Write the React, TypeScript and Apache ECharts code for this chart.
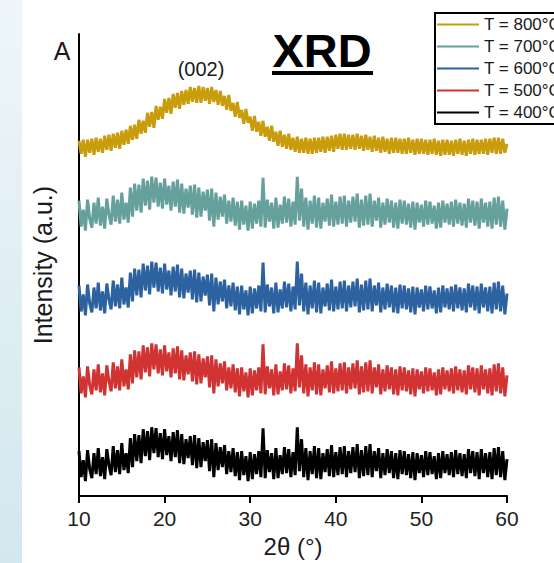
import React, { useEffect, useRef } from "react";
import * as echarts from "echarts";

// 2θ grid: 10° → 60° sampled every 0.25°
const ANGLE_START = 10;
const ANGLE_STEP = 0.25;

const seriesNames = ["T = 800°C", "T = 700°C", "T = 600°C", "T = 500°C", "T = 400°C"];
const seriesColors = ["#c99c0c", "#65a09c", "#2d62a0", "#d13232", "#000000"];
// vertical stacking offsets (a.u.)
const seriesOffsets = [349, 282, 197, 115, 31];

// T = 800°C pattern (graphitic (002) hump at ~24°)
const intensity800 = [
  7, -6, 8, -9, 8, -5, 9, -7, 10, -4, 9, -5, 12, -2, 13, -3,
  14, 0, 15, -1, 17, 3, 18, 4, 22, 8, 23, 9, 28, 14, 27, 15,
  35, 21, 36, 20, 42, 28, 41, 29, 49, 35, 50, 34, 54, 40, 55, 39,
  57, 43, 58, 44, 61, 46, 60, 45, 62, 45, 61, 47, 60, 44, 61, 46,
  58, 43, 57, 42, 52, 38, 53, 37, 45, 31, 46, 30, 38, 24, 39, 25,
  31, 17, 32, 16, 26, 12, 27, 11, 21, 7, 22, 6, 16, 2, 17, 1,
  13, -1, 14, -2, 10, -4, 11, -5, 9, -5, 10, -6, 9, -6, 10, -5,
  10, -4, 11, -5, 11, -3, 12, -4, 13, -1, 14, -2, 14, -2, 13, -1,
  13, -2, 14, -1, 12, -3, 13, -2, 11, -4, 12, -3, 10, -5, 11, -4,
  9, -6, 10, -5, 10, -5, 9, -6, 9, -6, 10, -5, 8, -7, 9, -6,
  9, -6, 8, -7, 8, -6, 9, -7, 7, -8, 8, -7, 8, -7, 7, -8,
  8, -6, 9, -7, 7, -8, 8, -6, 9, -7, 8, -6, 8, -6, 9, -7,
  9, -5, 10, -6, 10, -6, 9, -5, 4,
];

// T = 400–700°C patterns (amorphous, identical profile)
const intensityAmorphous = [
  14, -12, 5, -16, 15, -4, -13, 12, -9, 17, -11, 8, -14, 16, 0, -10,
  19, -7, 15, -9, 22, -5, 12, -8, 27, -2, 31, 4, 30, 2, 36, 9,
  34, 5, 38, 12, 37, 8, 32, 6, 36, 10, 29, 4, 33, 8, 35, 2,
  31, 1, 26, 7, 29, 0, 30, -3, 27, -2, 23, 4, 25, -6, 26, -12,
  22, -5, 18, -2, 20, -9, 14, -7, 17, -11, 13, -15, 14, -10, 9, -16,
  13, -14, 11, -9, 14, -12, 37, -13, 15, -7, 12, -14, 17, -13, 10, -9,
  18, -8, 16, -12, 13, -10, 38, -6, 26, -12, 17, -15, 14, -9, 19, -13,
  17, -14, 12, -7, 16, -11, 20, -12, 13, -10, 18, -9, 19, -12, 14, -8,
  18, -7, 21, -13, 15, -11, 19, -10, 21, -12, 14, -6, 17, -13, 12, -10,
  16, -8, 14, -13, 12, -14, 15, -9, 14, -10, 11, -13, 13, -15, 12, -8,
  10, -12, 14, -10, 13, -9, 9, -14, 12, -13, 14, -8, 11, -10, 13, -12,
  15, -9, 12, -11, 11, -13, 16, -8, 14, -11, 13, -14, 16, -8, 12, -12,
  13, -14, 17, -10, 18, -12, 14, -15, 6,
];

const seriesValues = [
  intensity800,
  intensityAmorphous,
  intensityAmorphous,
  intensityAmorphous,
  intensityAmorphous,
];

const xTicks = [10, 20, 30, 40, 50, 60];

const FONT = "'Liberation Sans', Arial, sans-serif";

export default function App() {
  const ref = useRef<HTMLDivElement>(null);

  useEffect(() => {
    if (!ref.current) return;
    const chart = echarts.init(ref.current, null, { renderer: "svg" });

    const series = seriesNames.map((name, s) => ({
      name,
      type: "line",
      showSymbol: false,
      symbol: "none",
      color: seriesColors[s],
      lineStyle: { width: 3, color: seriesColors[s], join: "miter" },
      data: seriesValues[s].map((v, i) => [ANGLE_START + i * ANGLE_STEP, v + seriesOffsets[s]]),
      z: 5 - s,
    }));

    chart.setOption({
      animation: false,
      backgroundColor: "#ffffff",
      textStyle: { fontFamily: FONT },
      grid: { left: 79, right: 47, top: 34, bottom: 66 },
      legend: {
        orient: "vertical",
        left: 435,
        top: 13,
        data: seriesNames,
        icon: "rect",
        itemWidth: 42,
        itemHeight: 2,
        itemGap: 5,
        borderColor: "#000",
        borderWidth: 2,
        borderRadius: 0,
        padding: [3, 6, 3, 2],
        textStyle: { fontSize: 17, color: "#1a1a1a", fontFamily: FONT },
      },
      xAxis: {
        type: "value",
        min: xTicks[0],
        max: xTicks[xTicks.length - 1],
        interval: 10,
        name: "2θ (°)",
        nameLocation: "middle",
        nameGap: 36,
        nameTextStyle: { fontSize: 24, color: "#1a1a1a", fontFamily: FONT },
        axisLine: { show: true, onZero: false, lineStyle: { color: "#000", width: 2 } },
        axisTick: { show: true, length: 7, lineStyle: { color: "#000", width: 2 } },
        axisLabel: { fontSize: 21, color: "#222", margin: 12, fontFamily: FONT },
        splitLine: { show: false },
      },
      yAxis: {
        type: "value",
        min: 0,
        max: 463,
        name: "Intensity (a.u.)",
        nameLocation: "middle",
        nameGap: 24,
        nameTextStyle: { fontSize: 25, color: "#1a1a1a", fontFamily: FONT },
        axisLine: { show: true, lineStyle: { color: "#000", width: 2 } },
        axisTick: { show: false },
        axisLabel: { show: false },
        splitLine: { show: false },
      },
      graphic: [
        {
          type: "rect",
          left: 0,
          top: 0,
          z: -10,
          shape: { width: 22, height: 563 },
          style: {
            fill: new echarts.graphic.LinearGradient(0, 0, 0, 1, [
              { offset: 0, color: "#eef6fa" },
              { offset: 1, color: "#d3e7ef" },
            ]),
          },
        },
        {
          type: "text",
          x: 62,
          y: 51,
          style: { text: "A", font: `25px ${FONT}`, fill: "#1a1a1a", align: "center", verticalAlign: "middle" },
        },
        {
          type: "text",
          x: 322,
          y: 50,
          style: { text: "XRD", font: `bold 47px ${FONT}`, fill: "#000", align: "center", verticalAlign: "middle" },
        },
        {
          type: "line",
          shape: { x1: 272, y1: 73, x2: 373, y2: 73 },
          style: { stroke: "#000", lineWidth: 4 },
        },
        {
          type: "text",
          x: 201,
          y: 69,
          style: { text: "(002)", font: `20px ${FONT}`, fill: "#1a1a1a", align: "center", verticalAlign: "middle" },
        },
      ],
      series,
    });

    return () => chart.dispose();
  }, []);

  return (
    <div
      ref={ref}
      style={{ position: "fixed", left: 0, top: 0, width: 554, height: 563, background: "#fff" }}
    />
  );
}
